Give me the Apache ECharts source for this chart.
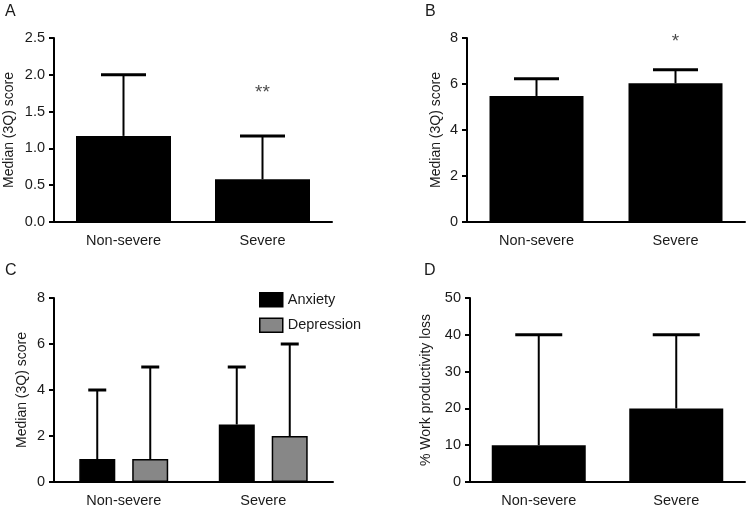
<!DOCTYPE html>
<html>
<head>
<meta charset="utf-8">
<script src="https://cdn.jsdelivr.net/npm/echarts@6/dist/echarts.min.js"></script>
<style>html,body{margin:0;padding:0;background:#fff;}#c{width:747px;height:508px;}</style>
</head>
<body>
<div id="c"></div>
<script>
// ---- data ----
const categories = ['Non-severe', 'Severe'];
// Panel A
const aMedian = [1.17, 0.58];
const aQ3 = [2.0, 1.17];
const aSig = ['', '**'];
const aSigPos = [null, 1.76];
// Panel B
const bMedian = [5.48, 6.03];
const bQ3 = [6.23, 6.62];
const bSig = ['', '*'];
const bSigPos = [null, 7.85];
// Panel C
const seriesNames = ['Anxiety', 'Depression'];
const cAnxMedian = [1, 2.5];
const cAnxQ3 = [4, 5];
const cDepMedian = [1, 2];
const cDepQ3 = [5, 6];
// Panel D
const dMedian = [10, 20];
const dQ3 = [40, 40];
// axis ranges
const yMax = [2.5, 8, 8, 50];
const yStep = [0.5, 2, 2, 10];
const yNames = ['Median (3Q) score', 'Median (3Q) score', 'Median (3Q) score', '% Work productivity loss'];
const panelLetters = ['A', 'B', 'C', 'D'];

const FONT = '"Liberation Sans", Arial, Helvetica, sans-serif';
const TXT = '#1a1a1a';

const grids = [
  {left: 54, top: 38, width: 278, height: 184},
  {left: 467, top: 38, width: 278, height: 184},
  {left: 54, top: 298, width: 279, height: 185},
  {left: 470, top: 298, width: 275, height: 185}
];
const nameGaps = [38, 24, 25, 37];

function errSeries(xi, med, q3, offset, capW) {
  return {
    type: 'custom', xAxisIndex: xi, yAxisIndex: xi, clip: false, z: 3,
    data: med.map((m, i) => [i, m, q3[i]]),
    encode: {x: 0, y: [1, 2]},
    renderItem: function (params, api) {
      const p0 = api.coord([api.value(0), api.value(1)]);
      const p1 = api.coord([api.value(0), api.value(2)]);
      const x = p0[0] + offset;
      return {
        type: 'group',
        children: [
          {type: 'line', shape: {x1: x, y1: p0[1], x2: x, y2: p1[1]}, style: {stroke: '#000', lineWidth: 2}},
          {type: 'line', shape: {x1: x - capW / 2, y1: p1[1], x2: x + capW / 2, y2: p1[1]}, style: {stroke: '#000', lineWidth: 3}}
        ]
      };
    }
  };
}

function sigSeries(xi, pos, labels) {
  return {
    type: 'scatter', xAxisIndex: xi, yAxisIndex: xi, symbolSize: 0, silent: true,
    data: pos.map((v, i) => v == null ? null : [i, v]),
    label: {show: true, position: 'inside', fontFamily: FONT, fontSize: 19, color: TXT,
      formatter: p => labels[p.dataIndex]}
  };
}

const chart = echarts.init(document.getElementById('c'), null, {renderer: 'canvas'});
const option = {
  backgroundColor: '#fff',
  animation: false,
  title: panelLetters.map((t, i) => ({
    text: t,
    left: [5, 425, 5, 424][i],
    top: [4, 4, 263, 263][i],
    padding: 0,
    textStyle: {fontFamily: FONT, fontSize: 16, fontWeight: 'normal', color: TXT}
  })),
  legend: {
    data: seriesNames,
    orient: 'vertical',
    left: 259, top: 292,
    padding: 0,
    itemWidth: 23, itemHeight: 14, itemGap: 10,
    icon: 'rect',
    textStyle: {fontFamily: FONT, fontSize: 14.5, color: TXT},
    itemStyle: {borderColor: '#000', borderWidth: 1.5}
  },
  grid: grids.map(g => Object.assign({containLabel: false}, g)),
  xAxis: grids.map((g, i) => ({
    type: 'category', gridIndex: i, data: categories,
    axisLine: {show: true, lineStyle: {color: '#000', width: 2}},
    axisTick: {show: false},
    axisLabel: {fontFamily: FONT, fontSize: 14.5, color: TXT, margin: 11},
    splitLine: {show: false}
  })),
  yAxis: grids.map((g, i) => ({
    type: 'value', gridIndex: i, min: 0, max: yMax[i], interval: yStep[i],
    name: yNames[i], nameLocation: 'middle', nameGap: nameGaps[i], nameRotate: 90,
    nameTextStyle: {fontFamily: FONT, fontSize: 14, color: TXT},
    axisLine: {show: true, lineStyle: {color: '#000', width: 2}},
    axisTick: {show: true, length: 5, lineStyle: {color: '#000', width: 2}},
    axisLabel: {fontFamily: FONT, fontSize: 14.5, color: TXT, margin: 9,
      formatter: v => i === 0 ? v.toFixed(1) : String(v)},
    splitLine: {show: false}
  })),
  series: [
    // A
    {type: 'bar', xAxisIndex: 0, yAxisIndex: 0, data: aMedian, barWidth: 95,
      itemStyle: {color: '#000'}, z: 2},
    errSeries(0, aMedian, aQ3, 0, 45),
    sigSeries(0, aSigPos, aSig),
    // B
    {type: 'bar', xAxisIndex: 1, yAxisIndex: 1, data: bMedian, barWidth: 94,
      itemStyle: {color: '#000'}, z: 2},
    errSeries(1, bMedian, bQ3, 0, 45),
    sigSeries(1, bSigPos, bSig),
    // C
    {name: seriesNames[0], type: 'bar', xAxisIndex: 2, yAxisIndex: 2, data: cAnxMedian, barWidth: 36, barGap: '47%',
      itemStyle: {color: '#000', borderColor: '#000', borderWidth: 1.5}, z: 2},
    {name: seriesNames[1], type: 'bar', xAxisIndex: 2, yAxisIndex: 2, data: cDepMedian, barWidth: 36, barGap: '47%',
      itemStyle: {color: '#878787', borderColor: '#000', borderWidth: 1.5}, z: 2},
    errSeries(2, cAnxMedian, cAnxQ3, -26.5, 18),
    errSeries(2, cDepMedian, cDepQ3, 26.5, 18),
    // D
    {type: 'bar', xAxisIndex: 3, yAxisIndex: 3, data: dMedian, barWidth: 94,
      itemStyle: {color: '#000'}, z: 2},
    errSeries(3, dMedian, dQ3, 0, 47)
  ]
};
chart.setOption(option);
</script>
</body>
</html>
